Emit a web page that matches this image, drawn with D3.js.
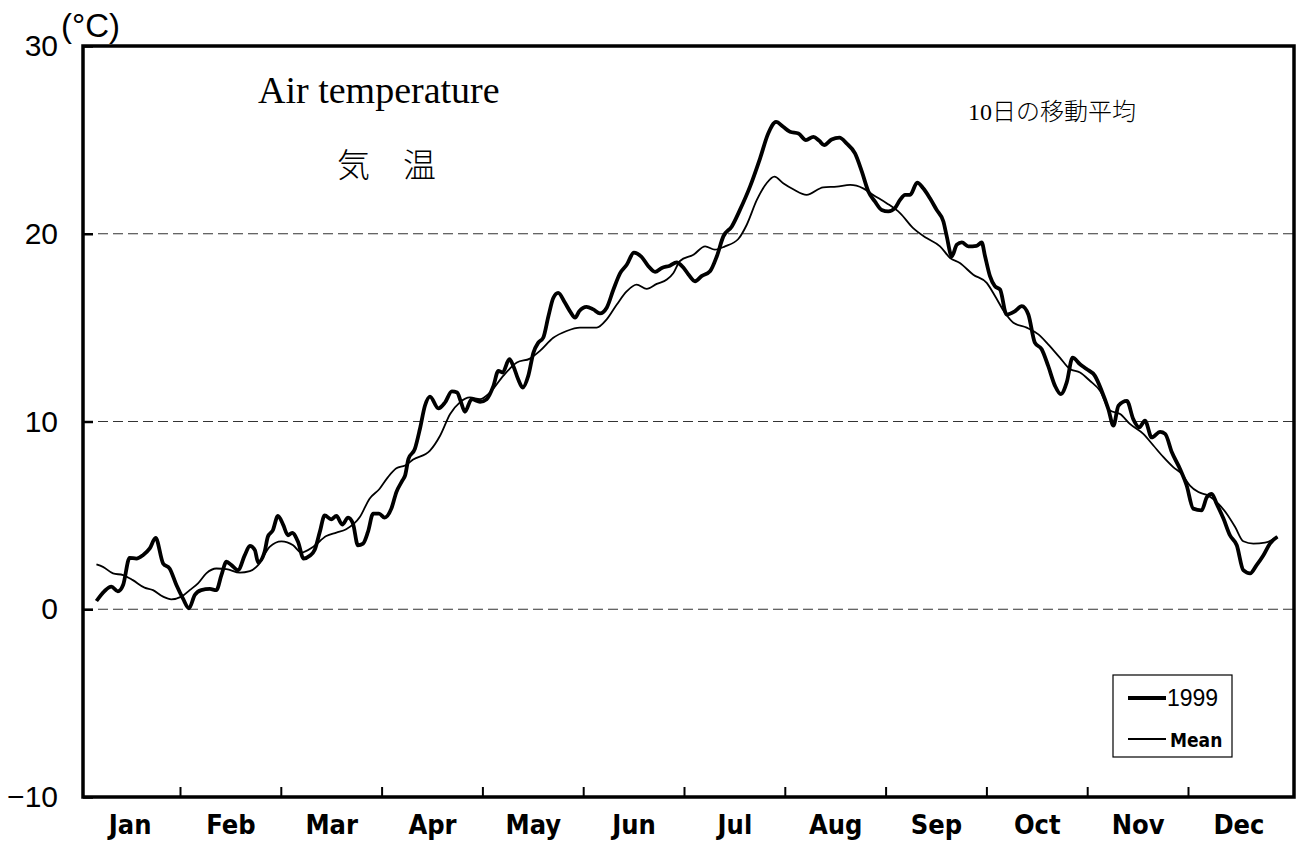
<!DOCTYPE html>
<html>
  <head>
    <meta charset="utf-8">
    <title>Air temperature</title>
    <script type="text/javascript" src="https://d3js.org/d3.v7.min.js"></script>
    <style media="screen">
      body { margin: 0; background: #fff; }
      .tick text { font-family: "Liberation Sans", Arial, sans-serif; }
      .month .tick text { font-family: "DejaVu Sans Condensed", "DejaVu Sans", sans-serif; font-stretch: condensed; font-weight: bold; }
    </style>
  </head>
  <body>

    <script type="text/javascript">

      var w = 1298;
      var h = 841;
      var plotLeft = 83, plotRight = 1294, plotTop = 46, plotBottom = 797;

      // month boundaries (day of year) and names
      var monthStart = [0, 31, 59, 90, 120, 151, 181, 212, 243, 273, 304, 334, 365];
      var monthNames = ['Jan', 'Feb', 'Mar', 'Apr', 'May', 'Jun', 'Jul', 'Aug', 'Sep', 'Oct', 'Nov', 'Dec'];
      var yTicks = [-10, 0, 10, 20, 30];
      var gridValues = [0, 10, 20];

      // 10 day moving average, [day of year, degC]
      var series1999 = [
        [5.3,0.44],[7.8,0.97],[9.9,1.2],[11.9,0.95],[13.5,1.29],[15.5,2.74],[17.6,2.7],[19.6,2.88],[21.7,3.24],[23.5,3.8],
        [25.8,2.44],[27.8,2.17],[29.9,1.29],[31.8,0.58],[33.5,0.05],[35.1,0.76],[36.9,1.02],[39.3,1.08],[41.1,1.02],[42.5,1.82],
        [43.9,2.53],[45.3,2.35],[47.1,2.08],[49.0,2.88],[50.4,3.38],[51.8,3.15],[52.7,2.49],[54.5,3.06],[55.4,3.86],[56.8,4.21],
        [58.2,4.97],[59.7,4.51],[61.2,3.94],[62.5,4.07],[64.3,3.59],[66.0,2.7],[67.9,2.85],[69.4,3.15],[71.0,4.12],[72.5,5.0],
        [74.5,4.79],[76.1,4.97],[77.9,4.51],[79.7,4.88],[81.2,4.56],[82.7,3.41],[84.3,3.5],[85.8,4.12],[87.4,5.09],[89.2,5.09],
        [90.9,4.88],[92.9,5.36],[94.4,6.24],[96.2,6.86],[97.0,7.13],[98.0,8.01],[99.9,8.54],[101.4,9.6],[102.9,10.84],[104.4,11.33],
        [106.9,10.7],[108.9,11.02],[110.9,11.6],[112.5,11.54],[113.5,11.1],[114.8,10.52],[116.8,11.19],[119.3,11.05],[121.3,11.19],[123.4,11.9],
        [124.9,12.7],[126.2,12.61],[128.3,13.32],[129.5,12.96],[131.0,12.25],[132.4,11.81],[134.1,12.43],[135.7,13.67],[137.2,14.2],[138.7,14.46],
        [140.3,15.61],[141.8,16.58],[143.3,16.85],[145.4,16.32],[146.9,15.88],[148.5,15.53],[149.8,15.88],[152.0,16.11],[154.0,15.97],[156.0,15.76],
        [158.0,16.06],[160.0,17.03],[162.0,17.9],[164.0,18.36],[166.1,19.0],[168.4,18.76],[170.4,18.27],[172.4,17.97],[174.4,18.18],[176.8,18.3],
        [178.8,18.48],[180.8,18.2],[182.5,17.8],[184.4,17.47],[186.4,17.74],[189.0,18.0],[191.1,18.8],[193.1,19.86],[195.7,20.39],[198.2,21.27],
        [201.3,22.51],[204.4,24.02],[206.9,25.34],[209.3,25.96],[211.5,25.7],[213.6,25.43],[216.2,25.34],[218.5,24.99],[220.8,25.16],[222.6,24.95],
        [224.1,24.72],[226.4,25.02],[228.8,25.12],[231.0,24.81],[233.6,24.28],[235.7,23.31],[237.7,22.25],[239.7,21.72],[241.8,21.27],[243.8,21.19],
        [245.8,21.37],[247.3,21.8],[248.8,22.07],[250.3,22.07],[252.4,22.72],[254.2,22.42],[256.2,21.89],[258.2,21.27],[260.2,20.65],[261.2,19.86],
        [262.7,18.8],[264.2,19.42],[265.7,19.54],[267.6,19.33],[270.1,19.36],[271.6,19.54],[272.6,18.8],[274.1,17.74],[275.6,17.21],[277.2,17.03],
        [279.2,15.7],[281.8,15.88],[283.9,16.15],[285.9,15.7],[287.9,14.2],[290.0,13.85],[292.0,12.96],[294.1,11.9],[295.9,11.46],[297.7,12.08],
        [299.5,13.4],[301.8,13.05],[303.8,12.79],[306.3,12.43],[308.3,11.64],[310.3,10.66],[311.8,9.78],[313.3,10.84],[315.8,11.1],[317.7,10.13],
        [319.5,9.69],[321.2,10.04],[323.2,9.15],[325.7,9.45],[327.2,9.34],[329.2,8.36],[331.6,7.48],[333.6,6.59],[335.6,5.36],[338.2,5.27],
        [339.8,5.97],[341.3,6.15],[342.8,5.62],[344.9,4.83],[346.9,3.94],[349.0,3.41],[351.0,2.08],[353.1,1.91],[355.1,2.35],[357.2,2.88],
        [359.2,3.5],[361.5,3.86]
      ];

      var seriesMean = [
        [5.3,2.39],[7.3,2.26],[10.4,1.91],[13.5,1.82],[16.5,1.55],[20.1,1.15],[22.7,1.02],[25.8,0.67],[28.3,0.53],[31.4,0.67],
        [33.7,1.02],[36.0,1.38],[38.3,1.91],[41.1,2.17],[43.9,2.14],[47.6,1.95],[50.4,2.03],[52.7,2.35],[55.9,3.32],[59.2,3.62],
        [62.8,3.41],[65.3,3.02],[68.9,3.32],[73.0,3.9],[76.1,4.08],[79.1,4.26],[83.3,4.91],[86.3,5.89],[89.4,6.42],[91.9,7.04],
        [94.4,7.51],[97.0,7.66],[99.4,7.97],[104.4,8.45],[107.4,9.24],[110.4,10.4],[113.3,11.02],[116.3,11.28],[119.3,11.19],[122.3,11.54],
        [126.4,12.43],[130.6,13.14],[134.6,13.35],[137.7,13.76],[141.8,14.46],[145.9,14.82],[150.0,15.0],[155.0,15.0],[158.0,15.44],[161.0,16.23],
        [164.0,16.94],[166.9,17.29],[169.9,17.06],[172.9,17.33],[175.9,17.56],[177.8,17.9],[179.8,18.55],[183.9,18.88],[187.5,19.33],[190.5,19.15],
        [193.6,19.33],[197.7,19.72],[200.3,20.48],[203.4,21.8],[206.4,22.69],[208.8,23.04],[211.5,22.69],[214.6,22.37],[218.7,22.07],[223.8,22.47],
        [228.0,22.51],[232.1,22.6],[236.1,22.42],[239.2,22.07],[243.3,21.63],[247.3,21.1],[251.2,20.3],[255.2,19.77],[259.2,19.33],[262.2,18.71],
        [265.1,18.44],[269.1,17.82],[273.1,17.38],[275.6,16.7],[278.7,15.79],[281.3,15.26],[285.4,15.0],[289.0,14.64],[292.0,14.11],[295.6,13.4],
        [298.7,12.79],[301.8,12.61],[304.8,12.17],[307.8,11.64],[310.8,10.58],[313.8,10.4],[316.7,9.87],[320.7,9.34],[323.7,8.72],[326.7,8.1],
        [329.6,7.57],[332.1,7.21],[334.6,6.59],[337.2,6.24],[340.2,6.06],[343.3,5.62],[345.9,5.09],[348.5,4.38],[351.0,3.62],[354.1,3.5],
        [357.7,3.55],[361.5,3.86]
      ];

      // months are drawn with equal widths
      var x0 = 79.2, monthW = 100.8;
      var xscale = d3.scaleLinear()
        .domain(monthStart)
        .range(monthStart.map(function(d, i){ return x0 + i * monthW; }));

      var yscale = d3.scaleLinear()
        .domain([-10, 30])
        .range([plotBottom, plotTop]);

      var svg = d3.select('body')
        .append('svg')
        .attr('width', w)
        .attr('height', h);

      // dashed grid
      svg.selectAll('line.grid')
        .data(gridValues)
        .enter()
        .append('line')
        .attr('class', 'grid')
        .attr('x1', plotLeft)
        .attr('x2', plotRight)
        .attr('y1', function(d){ return yscale(d); })
        .attr('y2', function(d){ return yscale(d); })
        .attr('stroke', '#333')
        .attr('stroke-width', 1.2)
        .attr('stroke-dasharray', '10,5');

      var line = d3.line()
        .x(function(d){ return xscale(d[0]); })
        .y(function(d){ return yscale(d[1]); })
        .curve(d3.curveMonotoneX);

      svg.append('path')
        .datum(seriesMean)
        .attr('d', line)
        .attr('fill', 'none')
        .attr('stroke', '#000')
        .attr('stroke-width', 1.8);

      svg.append('path')
        .datum(series1999)
        .attr('d', line)
        .attr('fill', 'none')
        .attr('stroke', '#000')
        .attr('stroke-width', 3.8)
        .attr('stroke-linejoin', 'round');

      // axes
      var yAxis = d3.axisLeft(yscale)
        .tickValues(yTicks)
        .tickSize(-10)
        .tickPadding(25);

      svg.append('g')
        .attr('class', 'y axis')
        .attr('transform', 'translate(' + plotLeft + ',0)')
        .call(yAxis)
        .call(function(g){
          g.select('.domain').remove();
          g.selectAll('.tick line').attr('stroke-width', 2.5);
          g.selectAll('.tick text').attr('font-size', 30).attr('fill', '#000');
        });

      var xTickAxis = d3.axisBottom(xscale)
        .tickValues(monthStart.slice(1, 12))
        .tickSize(-10)
        .tickFormat('');

      svg.append('g')
        .attr('class', 'x axis')
        .attr('transform', 'translate(0,' + plotBottom + ')')
        .call(xTickAxis)
        .call(function(g){
          g.select('.domain').remove();
          g.selectAll('.tick line').attr('stroke-width', 2);
        });

      var monthMid = monthStart.slice(0, 12).map(function(d, i){ return (d + monthStart[i + 1]) / 2; });
      var xAxis = d3.axisBottom(xscale)
        .tickValues(monthMid)
        .tickSize(0)
        .tickPadding(18)
        .tickFormat(function(d, i){ return monthNames[i]; });

      svg.append('g')
        .attr('class', 'month')
        .attr('transform', 'translate(0,' + plotBottom + ')')
        .call(xAxis)
        .call(function(g){
          g.select('.domain').remove();
          g.selectAll('.tick text').attr('font-size', 27).attr('fill', '#000');
        });

      // frame
      svg.append('rect')
        .attr('x', plotLeft)
        .attr('y', plotTop)
        .attr('width', plotRight - plotLeft)
        .attr('height', plotBottom - plotTop)
        .attr('fill', 'none')
        .attr('stroke', '#000')
        .attr('stroke-width', 3.5);

      svg.append('text')
        .attr('x', 61)
        .attr('y', 37)
        .attr('font-family', '"Liberation Sans", Arial, sans-serif')
        .attr('font-size', 33)
        .text('(°C)');

      svg.append('text')
        .attr('x', 258)
        .attr('y', 103)
        .attr('font-family', '"Liberation Serif", "Times New Roman", serif')
        .attr('font-size', 38)
        .text('Air temperature');

      svg.append('text')
        .attr('x', 337)
        .attr('y', 177)
        .attr('font-family', '"Noto Sans CJK JP", sans-serif')
        .attr('font-weight', 300)
        .attr('font-size', 33)
        .text('気\u3000温');

      svg.append('text')
        .attr('x', 968)
        .attr('y', 120)
        .attr('font-family', '"Liberation Serif", "Noto Sans CJK JP", serif')
        .attr('font-size', 24)
        .text('10')
        .append('tspan')
        .attr('font-family', '"Noto Sans CJK JP", sans-serif')
        .attr('font-weight', 300)
        .text('日の移動平均');

      // legend
      var legendItems = ['1999', 'Mean'];
      var legendWidths = [3.8, 1.8];
      var legend = svg.append('g').attr('transform', 'translate(1113,675)');

      legend.append('rect')
        .attr('width', 119)
        .attr('height', 82)
        .attr('fill', '#fff')
        .attr('stroke', '#000')
        .attr('stroke-width', 1.2);

      legend.selectAll('line.key')
        .data(legendItems)
        .enter()
        .append('line')
        .attr('class', 'key')
        .attr('x1', 15)
        .attr('x2', 53)
        .attr('y1', function(d, i){ return 23 + i * 41; })
        .attr('y2', function(d, i){ return 23 + i * 41; })
        .attr('stroke', '#000')
        .attr('stroke-width', function(d, i){ return legendWidths[i]; });

      legend.selectAll('text.key')
        .data(legendItems)
        .enter()
        .append('text')
        .attr('class', 'key')
        .attr('x', function(d, i){ return i == 0 ? 54 : 57; })
        .attr('y', function(d, i){ return 31 + i * 41; })
        .attr('font-family', function(d, i){ return i == 0 ? '"Liberation Sans", Arial, sans-serif' : '"DejaVu Sans Condensed", "DejaVu Sans", sans-serif'; })
        .attr('font-weight', function(d, i){ return i == 0 ? 'normal' : 'bold'; })
        .attr('font-stretch', 'condensed')
        .attr('font-size', function(d, i){ return i == 0 ? 23 : 19; })
        .text(function(d){ return d; });

    </script>

  </body>
</html>
